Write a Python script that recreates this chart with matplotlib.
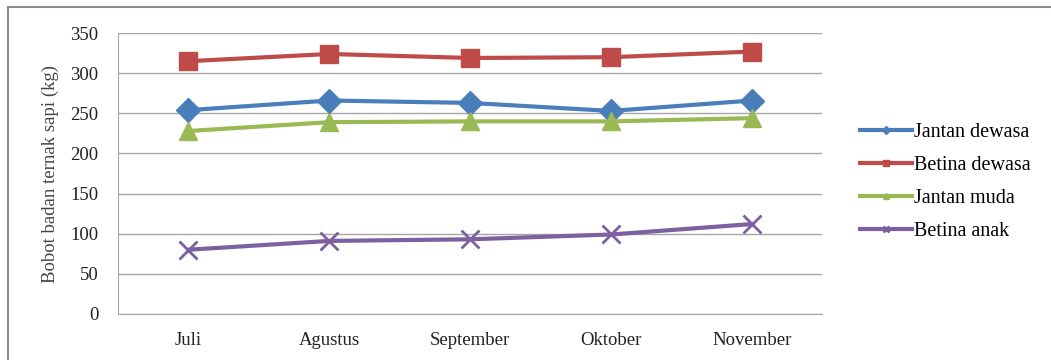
import matplotlib.pyplot as plt
from matplotlib.patches import Rectangle

# data
months = ["Juli", "Agustus", "September", "Oktober", "November"]
jantan_dewasa = [254, 266, 263, 253, 266]
betina_dewasa = [315, 324, 319, 320, 327]
jantan_muda = [228, 239, 240, 240, 244]
betina_anak = [80, 91, 93, 99, 112]

plt.rcParams['font.family'] = ['Liberation Serif', 'DejaVu Serif']

fig = plt.figure(figsize=(10.51, 3.6), dpi=100)
ax = fig.add_axes([0.1123, 0.128, 0.670, 0.780])

x = range(len(months))
series = [
    (jantan_dewasa, "Jantan dewasa", "#4A7EBB", "D", 12),
    (betina_dewasa, "Betina dewasa", "#BE4B48", "s", 13),
    (jantan_muda, "Jantan muda", "#98B954", "^", 13),
    (betina_anak, "Betina anak", "#7D60A0", "x", 13),
]
for vals, name, col, mk, ms in series:
    ax.plot(x, vals, color=col, lw=3, marker=mk, markersize=ms,
            markeredgewidth=2 if mk == "x" else 1, label=name)

ax.set_xlim(-0.5, 4.5)
ax.set_ylim(0, 350)
ax.set_yticks(range(0, 351, 50))
ax.set_xticks(list(x))
ax.set_xticklabels(months)
ax.tick_params(length=0, labelsize=13.5, colors="#222222")
ax.tick_params(axis="x", pad=13)
ax.tick_params(axis="y", pad=14)
ax.grid(axis="y", color="#A6A6A6", lw=1)
ax.set_axisbelow(True)
for s in ["top", "right"]:
    ax.spines[s].set_visible(False)
ax.spines["left"].set_color("#A6A6A6")
ax.spines["bottom"].set_color("#A6A6A6")
ax.set_ylabel("Bobot badan ternak sapi (kg)", fontsize=13.5, color="#444444", labelpad=8)

leg = ax.legend(loc="center left", bbox_to_anchor=(1.028, 0.47), frameon=False,
                fontsize=14.5, markerscale=0.35, handlelength=2.6, handletextpad=0.1,
                labelspacing=0.7)

# outer chart frame
fig.patches.append(Rectangle((0.008, -0.01), 1.1, 0.99, transform=fig.transFigure,
                             fill=False, edgecolor="#8C8C8C", lw=1.5))

fig.savefig("out.png", dpi=100)
